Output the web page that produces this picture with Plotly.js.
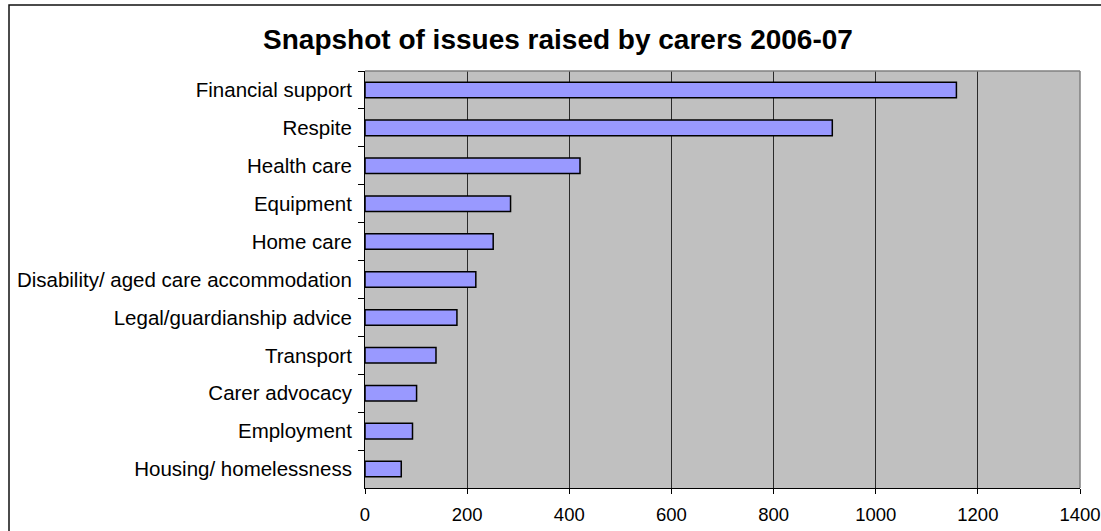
<!DOCTYPE html>
<html>
<head>
<meta charset="utf-8">
<script src="https://cdn.plot.ly/plotly-3.0.1.min.js"></script>
<style>
  html, body { margin: 0; padding: 0; background: #fff; }
  #chart { width: 1101px; height: 531px; }
</style>
</head>
<body>
<div id="chart"></div>
<script>
const categories = [
  "Financial support",
  "Respite",
  "Health care",
  "Equipment",
  "Home care",
  "Disability/ aged care accommodation",
  "Legal/guardianship advice",
  "Transport",
  "Carer advocacy",
  "Employment",
  "Housing/ homelessness"
];
const issueCounts = [1158, 915, 421, 285, 251, 217, 180, 139, 101, 93, 71];
const xTickValues = [0, 200, 400, 600, 800, 1000, 1200, 1400];
const chartTitle = "Snapshot of issues raised by carers 2006-07";

const W = 1101, H = 531;
const M = { l: 365, r: 21, t: 71, b: 43 };
const pw = W - M.l - M.r, ph = H - M.t - M.b;
const px2x = p => (p - M.l) / pw;
const py2y = p => 1 - (p - M.t) / ph;

const font = "Liberation Sans, Arial, sans-serif";

const trace = {
  type: "bar",
  orientation: "h",
  x: issueCounts,
  y: categories,
  marker: { color: "#9999FF", line: { color: "#000000", width: 1.5 } },
  hoverinfo: "x+y"
};

const layout = {
  width: W, height: H,
  margin: M,
  paper_bgcolor: "#ffffff",
  plot_bgcolor: "#C0C0C0",
  showlegend: false,
  bargap: 0.59,
  title: {
    text: "<b>" + chartTitle + "</b>",
    font: { family: font, size: 28, color: "#000" },
    x: px2x(558), xref: "paper", xanchor: "center",
    y: 1 - 39 / H, yref: "container", yanchor: "middle"
  },
  xaxis: {
    range: [0, 1400],
    tickvals: xTickValues,
    ticktext: xTickValues.map(String),
    showgrid: true, gridcolor: "#2a2a2a", gridwidth: 1,
    zeroline: false,
    showline: true, linecolor: "#000", linewidth: 1,
    ticks: "outside", ticklen: 5, tickcolor: "#000", tickwidth: 1,
    ticklabelstandoff: 5,
    ticklabeloverflow: "allow",
    tickfont: { family: font, size: 18.5, color: "#000" },
    fixedrange: true
  },
  yaxis: {
    type: "category",
    autorange: "reversed",
    showgrid: false,
    showline: true, linecolor: "#000", linewidth: 1,
    ticks: "outside", ticklen: 6, tickcolor: "#000", tickwidth: 1,
    tickson: "boundaries",
    ticklabelstandoff: 8,
    tickfont: { family: font, size: 20.5, color: "#000" },
    fixedrange: true
  },
  shapes: [
    { type: "line", xref: "paper", yref: "paper", x0: 0, x1: 1, y0: 1, y1: 1,
      line: { color: "#808080", width: 1.5 } },
    { type: "line", xref: "paper", yref: "paper", x0: 1, x1: 1, y0: 0, y1: 1,
      line: { color: "#808080", width: 1.5 } },
    { type: "rect", xref: "paper", yref: "paper",
      x0: px2x(9), x1: px2x(1110), y0: py2y(545), y1: py2y(5),
      line: { color: "#111", width: 1.5 }, fillcolor: "rgba(0,0,0,0)" }
  ]
};

Plotly.newPlot("chart", [trace], layout, { displayModeBar: false, staticPlot: true });
</script>
</body>
</html>
